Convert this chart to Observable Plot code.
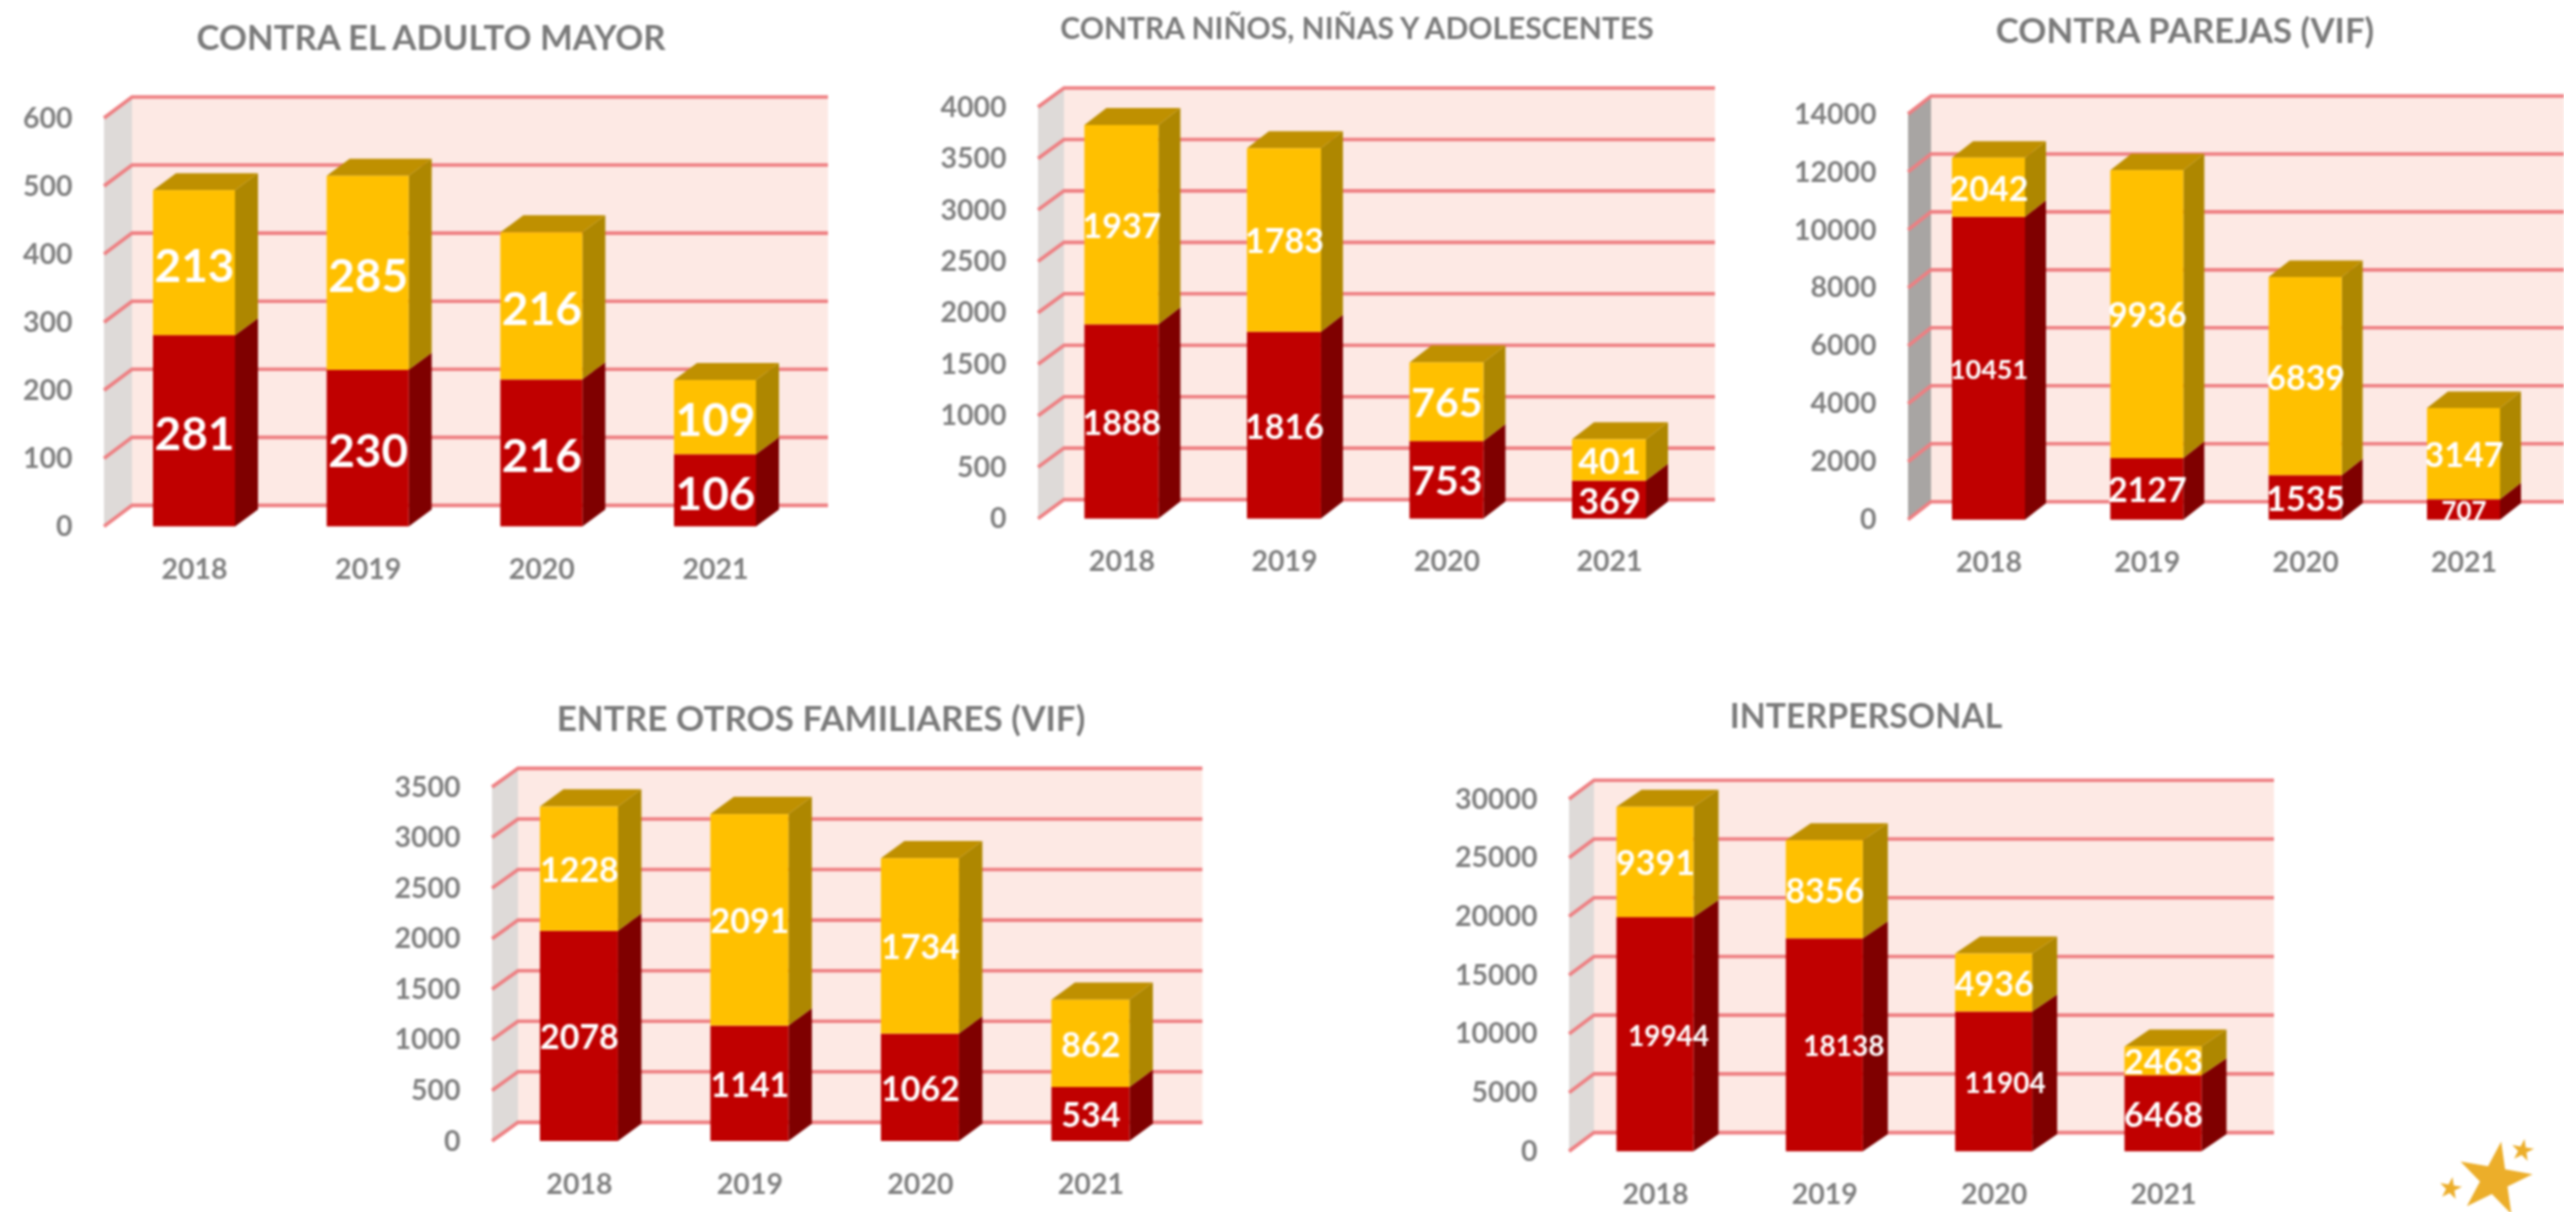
<!DOCTYPE html>
<html><head><meta charset="utf-8">
<script src="https://cdn.jsdelivr.net/npm/d3@7"></script>
<script src="https://cdn.jsdelivr.net/npm/@observablehq/plot@0.6"></script>
<style>
html,body{margin:0;padding:0;background:#fff}
#page{position:relative;width:2564px;height:1212px;overflow:hidden;background:#fff;font-family:Lato,sans-serif}
.t{position:absolute;transform:translate(-50%,-50%);white-space:nowrap;font-weight:700;color:#7a7a7a}
</style></head><body><div id="page"></div>
<script>
const years = ["2018","2019","2020","2021"];

const adultoRojo = [281,230,216,106];
const adultoAmarillo = [213,285,216,109];
const adultoTicks = [0,100,200,300,400,500,600];

const ninosRojo = [1888,1816,753,369];
const ninosAmarillo = [1937,1783,765,401];
const ninosTicks = [0,500,1000,1500,2000,2500,3000,3500,4000];

const parejasRojo = [10451,2127,1535,707];
const parejasAmarillo = [2042,9936,6839,3147];
const parejasTicks = [0,2000,4000,6000,8000,10000,12000,14000];

const familiaresRojo = [2078,1141,1062,534];
const familiaresAmarillo = [1228,2091,1734,862];
const familiaresTicks = [0,500,1000,1500,2000,2500,3000,3500];

const interRojo = [19944,18138,11904,6468];
const interAmarillo = [9391,8356,4936,2463];
const interTicks = [0,5000,10000,15000,20000,25000,30000];

const panels = [
 {title:"CONTRA EL ADULTO MAYOR",red:adultoRojo,yellow:adultoAmarillo,ticks:adultoTicks,
  tx:431,ty:36,tsize:34.7,front:104,right:828,base:526,top:117.6,wd:[28,21],bd:[23,17],c0:194,c3:715,bw:82,wall:"#dedad8",ldy:4,
  rs:[46,46,46,46],ys:[46,46,46,46],rdx:[0,0,0,0]},
 {title:"CONTRA NIÑOS, NIÑAS Y ADOLESCENTES",red:ninosRojo,yellow:ninosAmarillo,ticks:ninosTicks,
  tx:1357,ty:27,tsize:30,front:1038,right:1715,base:518.6,top:107,wd:[26,19],bd:[22,17],c0:1121.4,c3:1609,bw:74,wall:"#dedad8",ldy:2,
  rs:[34,34,41,36],ys:[34,34,41,36],rdx:[0,0,0,0]},
 {title:"CONTRA PAREJAS (VIF)",red:parejasRojo,yellow:parejasAmarillo,ticks:parejasTicks,
  tx:2185,ty:29,tsize:34.8,front:1908,right:2564,base:519.7,top:114,wd:[23,18],bd:[21,16.5],c0:1988.5,c3:2463.5,bw:73,wall:"#a8a5a3",ldy:2,
  rs:[27,34,34,26],ys:[34,34,34,34],rdx:[0,0,0,0]},
 {title:"ENTRE OTROS FAMILIARES (VIF)",red:familiaresRojo,yellow:familiaresAmarillo,ticks:familiaresTicks,
  tx:821,ty:717,tsize:35,front:491.6,right:1202,base:1141,top:787,wd:[26,18.6],bd:[23.5,17.3],c0:578.5,c3:1090,bw:78,wall:"#dedad8",ldy:2,
  rs:[34,34,34,34],ys:[34,34,34,34],rdx:[0,0,0,0]},
 {title:"INTERPERSONAL",red:interRojo,yellow:interAmarillo,ticks:interTicks,
  tx:1866,ty:715,tsize:33.8,front:1569,right:2274,base:1151.7,top:799.4,wd:[25,18.7],bd:[25,17],c0:1655,c3:2163,bw:77,wall:"#dedad8",ldy:2,
  rs:[28,28,28,34],ys:[34,34,34,34],rdx:[13,19,11,0]}
];

const COLORS = {
  Rojo:{front:"#c00000",side:"#7f0000"},
  Amarillo:{front:"#ffc000",side:"#ae8700",top:"#bf9000"}
};
const page = document.getElementById("page");

function backdrop(p){
  return (index,{y},values,{width,height,marginLeft,marginRight}) => {
    const [dx,dy] = p.wd;
    const max = d3.max(p.ticks);
    const g = d3.create("svg:g");
    const L = marginLeft, R = width - marginRight;
    g.append("rect").attr("x",L+dx).attr("y",y(max)-dy).attr("width",R-L-dx).attr("height",y(0)-y(max)).attr("fill","#fde9e4");
    g.append("polygon").attr("points",[[L,y(0)],[L+dx,y(0)-dy],[L+dx,y(max)-dy],[L,y(max)]].join(" ")).attr("fill",p.wall);
    for (const t of p.ticks){
      g.append("path").attr("d",`M${L},${y(t)}L${L+dx},${y(t)-dy}H${R}`).attr("fill","none").attr("stroke","#ee7f82").attr("stroke-width",3.6);
    }
    return g.node();
  };
}
function faces(p,rows){
  return (index,{x,y}) => {
    const [dx,dy] = p.bd;
    const g = d3.create("svg:g");
    const bw = x.bandwidth ? x.bandwidth() : p.bw;
    for (const r of rows){
      const xl = x(r.year), xr = xl + bw;
      const y1 = y(r.y1), y2 = y(r.y2);
      g.append("polygon").attr("points",[[xr,y1],[xr+dx,y1-dy],[xr+dx,y2-dy],[xr,y2]].join(" ")).attr("fill",COLORS[r.serie].side);
      if (r.serie==="Amarillo")
        g.append("polygon").attr("points",[[xl,y2],[xl+dx,y2-dy],[xr+dx,y2-dy],[xr,y2]].join(" ")).attr("fill",COLORS.Amarillo.top);
    }
    return g.node();
  };
}

for (const p of panels){
  const rows = [];
  years.forEach((year,i)=>{
    const a = p.red[i], b = p.yellow[i];
    rows.push({year,serie:"Rojo",value:a,y1:0,y2:a,mid:a/2,size:p.rs[i],dx:p.rdx[i]});
    rows.push({year,serie:"Amarillo",value:b,y1:a,y2:a+b,mid:a+b/2,size:p.ys[i],dx:0});
  });
  const L = p.front - 104, T = p.top - 60;
  const W = p.right - L, H = p.base - T + 70;
  const step = (p.c3-p.c0)/3, padding = 1 - p.bw/step;
  const chart = Plot.plot({
    width:W,height:H,
    marginLeft:p.front-L,marginRight:0,marginTop:p.top-T,marginBottom:H-(p.base-T),
    style:{position:"absolute",left:L+"px",top:T+"px",overflow:"visible",background:"transparent",maxWidth:"none",fontFamily:"Lato,sans-serif",filter:"blur(1px)"},
    x:{type:"band",domain:years,range:[p.c0-step/2-L,p.c3+step/2-L],paddingInner:padding,paddingOuter:padding/2,align:0.5,round:false},
    y:{domain:[0,d3.max(p.ticks)],range:[p.base-T,p.top-T]},
    color:{domain:["Rojo","Amarillo"],range:[COLORS.Rojo.front,COLORS.Amarillo.front]},
    marks:[
      backdrop(p),
      faces(p,rows),
      Plot.rect(rows,{x:"year",y1:"y1",y2:"y2",fill:"serie"}),
      Plot.axisY({ticks:p.ticks,tickSize:0,tickPadding:32,tickFormat:d=>String(d),label:null,fontSize:28.5,color:"#808080",fontWeight:"700"}),
      Plot.axisX({tickSize:0,tickPadding:32,label:null,fontSize:28.5,color:"#808080",fontWeight:"700"}),
      ...rows.map(r=>Plot.text([r],{x:"year",y:"mid",text:d=>String(d.value),fill:"#fff",fontSize:r.size,fontWeight:"700",dx:r.dx,dy:p.ldy}))
    ]
  });
  page.appendChild(chart);
  const t = document.createElement("div");
  t.className="t";t.textContent=p.title;
  t.style.left=p.tx+"px";t.style.top=p.ty+"px";t.style.fontSize=p.tsize+"px";t.style.filter="blur(1px)";
  page.appendChild(t);
}

// decorative star group, bottom-right corner
const starX = [94,122,50];
const starY = [59,30,68];
const starR = [23,7,7];
const stars = starX.map((x,i)=>({x,y:starY[i],r:starR[i]}));
page.appendChild(Plot.plot({
  width:164,height:92,margin:0,
  style:{position:"absolute",left:"2400px",top:"1120px",overflow:"visible",background:"transparent",maxWidth:"none",filter:"blur(0.8px)"},
  x:{type:"identity",axis:null},y:{type:"identity",axis:null},r:{type:"identity"},
  marks:[Plot.dot(stars,{x:"x",y:"y",r:"r",symbol:"star",fill:"#ecae2a",rotate:10})]
}));
</script></body></html>
